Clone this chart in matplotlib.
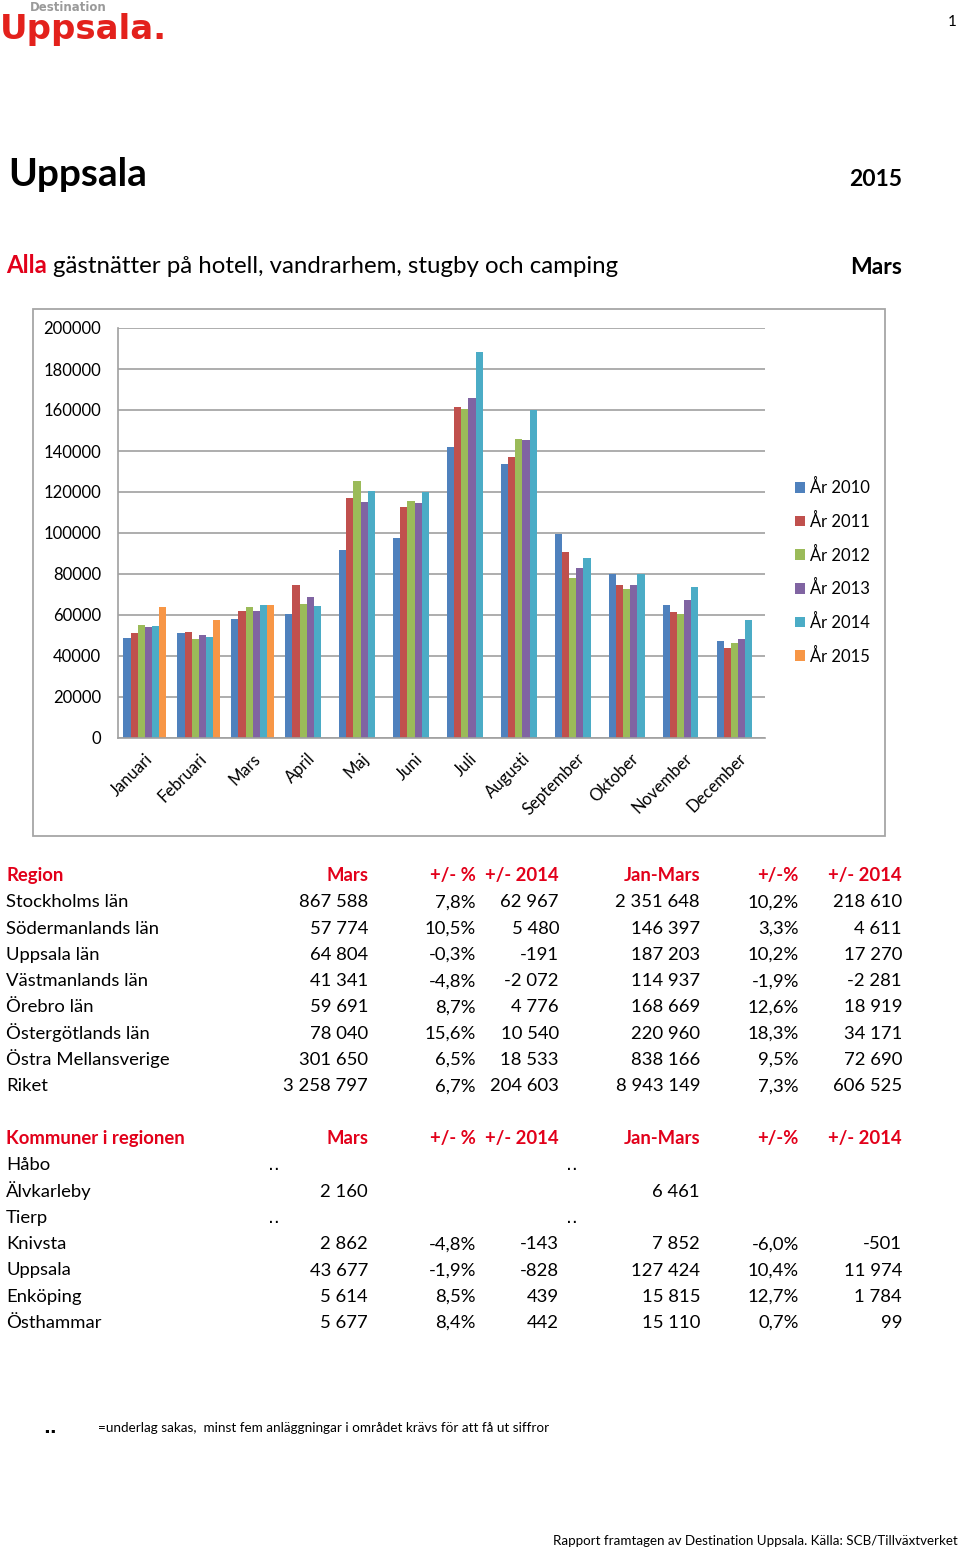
import matplotlib
matplotlib.use("Agg")
import matplotlib.pyplot as plt
from matplotlib.patches import Rectangle
import numpy as np

plt.rcParams['font.family'] = ['Lato', 'DejaVu Sans']

# chart data
months = ["Januari", "Februari", "Mars", "April", "Maj", "Juni", "Juli",
          "Augusti", "September", "Oktober", "November", "December"]
years = ["År 2010", "År 2011", "År 2012", "År 2013", "År 2014", "År 2015"]
y2010 = [49000, 51000, 58000, 60500, 91500, 97500, 142000, 133500, 99500, 80000, 65000, 47500]
y2011 = [51000, 51500, 62000, 74500, 117000, 112500, 161500, 137000, 90500, 74500, 61500, 44000]
y2012 = [55000, 48500, 64000, 65500, 125500, 115500, 160500, 146000, 78000, 72500, 60500, 46500]
y2013 = [54000, 50000, 62000, 69000, 115000, 114500, 166000, 145500, 83000, 74500, 67500, 48500]
y2014 = [54500, 49500, 64995, 64500, 120500, 120000, 188500, 160000, 88000, 80000, 73500, 57500]
y2015 = [63800, 57700, 64804] + [np.nan] * 9
series = [y2010, y2011, y2012, y2013, y2014, y2015]
colors = ["#4F81BD", "#C0504D", "#9BBB59", "#8064A2", "#4BACC6", "#F79646"]

# table 1
reg_header = ["Region", "Mars", "+/- %", "+/- 2014", "Jan-Mars", "+/-%", "+/- 2014"]
regions = ["Stockholms län", "Södermanlands län", "Uppsala län", "Västmanlands län",
           "Örebro län", "Östergötlands län", "Östra Mellansverige", "Riket"]
reg_mars = ["867 588", "57 774", "64 804", "41 341", "59 691", "78 040", "301 650", "3 258 797"]
reg_pct = ["7,8%", "10,5%", "-0,3%", "-4,8%", "8,7%", "15,6%", "6,5%", "6,7%"]
reg_diff = ["62 967", "5 480", "-191", "-2 072", "4 776", "10 540", "18 533", "204 603"]
reg_jm = ["2 351 648", "146 397", "187 203", "114 937", "168 669", "220 960", "838 166", "8 943 149"]
reg_jm_pct = ["10,2%", "3,3%", "10,2%", "-1,9%", "12,6%", "18,3%", "9,5%", "7,3%"]
reg_jm_diff = ["218 610", "4 611", "17 270", "-2 281", "18 919", "34 171", "72 690", "606 525"]

# table 2
kom_header = ["Kommuner i regionen", "Mars", "+/- %", "+/- 2014", "Jan-Mars", "+/-%", "+/- 2014"]
kommuner = ["Håbo", "Älvkarleby", "Tierp", "Knivsta", "Uppsala", "Enköping", "Östhammar"]
kom_mars = ["", "2 160", "", "2 862", "43 677", "5 614", "5 677"]
kom_pct = ["", "", "", "-4,8%", "-1,9%", "8,5%", "8,4%"]
kom_diff = ["", "", "", "-143", "-828", "439", "442"]
kom_jm = ["", "6 461", "", "7 852", "127 424", "15 815", "15 110"]
kom_jm_pct = ["", "", "", "-6,0%", "10,4%", "12,7%", "0,7%"]
kom_jm_diff = ["", "", "", "-501", "11 974", "1 784", "99"]
kom_missing = ["Håbo", "Tierp"]

RED = "#E2001A"
W, H = 960, 1551
fig = plt.figure(figsize=(W / 100, H / 100), dpi=100)


def fx(x):
    return x / W


def fy(y):
    return 1 - y / H


def txt(x, y, s, **kw):
    kw.setdefault("va", "baseline")
    return fig.text(fx(x), fy(y), s, **kw)


# logo
txt(30, 11, "Destination", fontsize=8.5, fontweight="bold", color="#9a9a9a",
    family="DejaVu Sans")
txt(0, 38.5, "Uppsala.", fontsize=24.5, fontweight="bold", color="#E3211C",
    family="DejaVu Sans")
txt(957, 26, "1", fontsize=11, ha="right")

# title block
txt(8, 186, "Uppsala", fontsize=28, fontweight="bold")
txt(902, 186, "2015", fontsize=16.5, fontweight="bold", ha="right")
txt(6, 273, "Alla", fontsize=17.3, fontweight="bold", color=RED)
txt(53, 273, "gästnätter på hotell, vandrarhem, stugby och camping", fontsize=17.3)
txt(902, 274, "Mars", fontsize=16.5, fontweight="bold", ha="right")

# chart frame
fig.patches.append(Rectangle((fx(33), fy(836)), fx(885) - fx(33), fy(309) - fy(836),
                             transform=fig.transFigure, fill=False,
                             edgecolor="#a6a6a6", lw=1.3))

ax = fig.add_axes([fx(118), fy(738), fx(765) - fx(118), fy(328) - fy(738)])
x = np.arange(len(months))
bw = 0.133
for i, (vals, col, lab) in enumerate(zip(series, colors, years)):
    ax.bar(x + (i - 2.5) * bw, vals, width=bw, color=col, label=lab, linewidth=0)

ax.set_xlim(-0.5, len(months) - 0.5)
ax.set_ylim(0, 200000)
ax.set_yticks(np.arange(0, 200001, 20000))
ax.set_yticklabels([str(v) for v in range(0, 200001, 20000)], fontsize=12)
ax.set_xticks(x)
ax.set_xticklabels(months, rotation=45, ha="right", rotation_mode="anchor", fontsize=12)
ax.tick_params(axis="y", length=0, pad=12)
ax.tick_params(axis="x", length=0, pad=9)
ax.grid(axis="y", color="#a0a0a0", lw=1.2)
ax.set_axisbelow(True)
for side in ["top", "right"]:
    ax.spines[side].set_visible(False)
for side in ["left", "bottom"]:
    ax.spines[side].set_color("#a0a0a0")
    ax.spines[side].set_linewidth(1.2)

ax.legend(loc="center left", bbox_to_anchor=(1.036, 0.405), frameon=False, fontsize=12,
          handlelength=0.6, handleheight=0.6, handletextpad=0.3, labelspacing=1.0,
          borderaxespad=0.0)

# tables
col_right = [368, 476, 559, 700, 799, 902]


def table(y0, header, names, cols):
    txt(6, y0, header[0], fontsize=13.3, fontweight="bold", color=RED)
    for xr, h in zip(col_right, header[1:]):
        txt(xr, y0, h, fontsize=13.3, fontweight="bold", color=RED, ha="right")
    for r, name in enumerate(names):
        yy = y0 + 26.3 * (r + 1)
        txt(6, yy, name, fontsize=13.3)
        for xr, c in zip(col_right, cols):
            txt(xr, yy, c[r], fontsize=13.3, ha="right")


table(881, reg_header, regions, [reg_mars, reg_pct, reg_diff, reg_jm, reg_jm_pct, reg_jm_diff])
table(1144, kom_header, kommuner, [kom_mars, kom_pct, kom_diff, kom_jm, kom_jm_pct, kom_jm_diff])
for name in kom_missing:
    r = kommuner.index(name)
    yy = 1144 + 26.3 * (r + 1)
    txt(268, yy, "..", fontsize=13.3, family="DejaVu Sans")
    txt(566, yy, "..", fontsize=13.3, family="DejaVu Sans")

# footnotes
txt(43, 1433, "..", fontsize=13, fontweight="bold", family="DejaVu Sans")
txt(98, 1432, "=underlag sakas,  minst fem anläggningar i området krävs för att få ut siffror",
    fontsize=9.75)
txt(958, 1545, "Rapport framtagen av Destination Uppsala. Källa: SCB/Tillväxtverket",
    fontsize=9.6, ha="right")

fig.savefig("out.png", dpi=100)
